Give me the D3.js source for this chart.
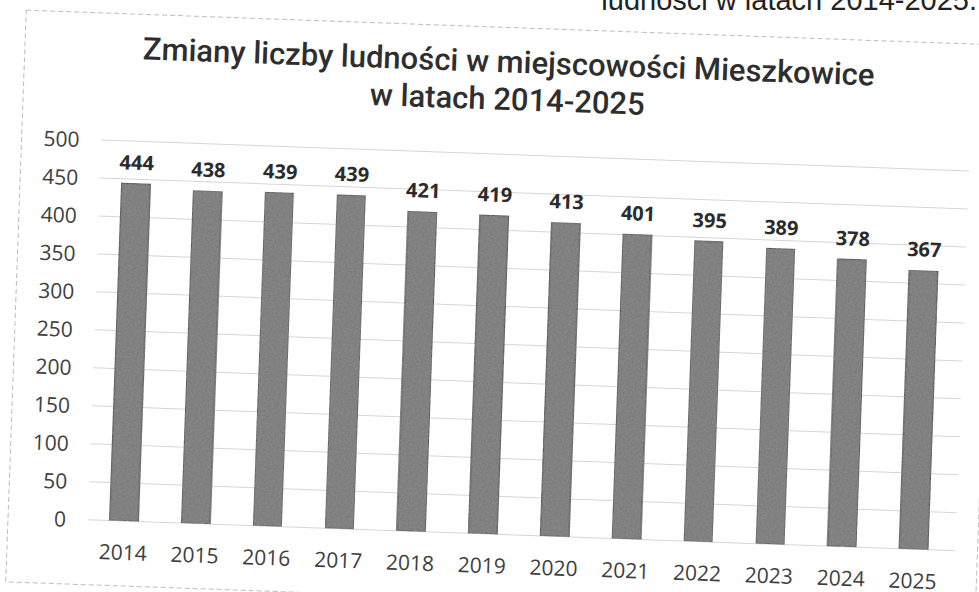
<!DOCTYPE html>
<html>
<head>
<meta charset="utf-8">
<script src="https://cdn.jsdelivr.net/npm/d3@7"></script>
<style>
  body { margin: 0; background: #fff; }
  svg { display: block; }
</style>
</head>
<body>
<div class="chart"></div>
<script>
var years = ['2014', '2015', '2016', '2017', '2018', '2019', '2020', '2021', '2022', '2023', '2024', '2025'];
var population = [444, 438, 439, 439, 421, 419, 413, 401, 395, 389, 378, 367];
var yTicks = [0, 50, 100, 150, 200, 250, 300, 350, 400, 450, 500];
var titleLines = ['Zmiany liczby ludności w miejscowości Mieszkowice', 'w latach 2014-2025'];

var width = 979;
var height = 592;

var svg = d3.select('.chart')
  .append('svg')
    .attr('width', width)
    .attr('height', height);

// bit of grain so the bars look like the scanned print
var defs = svg.append('defs');
var grain = defs.append('filter')
    .attr('id', 'grain')
    .attr('x', 0).attr('y', 0).attr('width', 1).attr('height', 1);
grain.append('feTurbulence')
    .attr('type', 'fractalNoise')
    .attr('baseFrequency', 0.6)
    .attr('numOctaves', 2)
    .attr('result', 'noise');
grain.append('feColorMatrix')
    .attr('in', 'noise')
    .attr('type', 'matrix')
    .attr('values', '0 0 0 0 0.3  0 0 0 0 0.3  0 0 0 0 0.3  1.2 0 0 0 -0.35')
    .attr('result', 'tint');
grain.append('feComposite')
    .attr('in', 'tint')
    .attr('in2', 'SourceGraphic')
    .attr('operator', 'in')
    .attr('result', 'spots');
grain.append('feMerge').selectAll('feMergeNode')
  .data(['SourceGraphic', 'spots'])
  .enter().append('feMergeNode')
    .attr('in', d => d);

// partly cut caption from the scanned page
svg.append('text')
    .attr('x', 977)
    .attr('y', 10)
    .attr('text-anchor', 'end')
    .style('font-family', '"Liberation Sans", Arial, sans-serif')
    .style('font-size', '29px')
    .style('fill', '#222')
    .text('ludności w latach 2014-2025.');

// whole chart is a little tilted in the scan
var g = svg.append('g')
    .attr('transform', 'rotate(2.05, 124, 521)');

g.append('rect')
    .attr('x', 8)
    .attr('y', 14)
    .attr('width', 970)
    .attr('height', 572)
    .style('fill', 'none')
    .style('stroke', '#bdbdbd')
    .style('stroke-dasharray', '5,3');

var xScale = d3.scaleBand()
  .domain(years)
  .range([88, 950])
  .paddingInner(0.6)
  .paddingOuter(0.3);

var yScale = d3.scaleLinear()
  .domain([0, 500])
  .range([521, 141]);

g.append('g')
  .selectAll('line')
  .data(yTicks)
  .enter().append('line')
    .attr('x1', 88)
    .attr('x2', 956)
    .attr('y1', d => yScale(d))
    .attr('y2', d => yScale(d))
    .style('stroke', '#d6d6d6')
    .style('stroke-width', 1);

var yAxis = g.append('g')
    .attr('transform', 'translate(66, 0)')
    .call(d3.axisLeft(yScale).tickValues(yTicks).tickSize(0).tickPadding(0));
yAxis.select('.domain').remove();
yAxis.selectAll('text')
    .attr('dy', '0.35em')
    .style('font-family', '"Open Sans", sans-serif')
    .style('font-size', '21px')
    .style('fill', '#404040');

var xAxis = g.append('g')
    .attr('transform', 'translate(0, 521)')
    .call(d3.axisBottom(xScale).tickSize(0).tickPadding(0));
xAxis.select('.domain').remove();
xAxis.selectAll('text')
    .attr('y', 39)
    .attr('dy', 0)
    .style('font-family', '"Open Sans", sans-serif')
    .style('font-size', '21px')
    .style('fill', '#404040');

g.append('g')
  .selectAll('rect')
  .data(population)
  .enter().append('rect')
    .attr('x', (d, i) => xScale(years[i]))
    .attr('y', d => yScale(d))
    .attr('width', xScale.bandwidth())
    .attr('height', d => yScale(0) - yScale(d))
    .style('fill', '#7a7a7a')
    .style('stroke', '#4e4e4e')
    .style('stroke-width', 1.2)
    .attr('filter', 'url(#grain)');

g.append('g')
  .selectAll('text')
  .data(population)
  .enter().append('text')
    .attr('x', (d, i) => xScale(years[i]) + xScale.bandwidth() / 2)
    .attr('y', d => yScale(d) - 14)
    .attr('text-anchor', 'middle')
    .style('font-family', '"Open Sans", sans-serif')
    .style('font-weight', 'bold')
    .style('font-size', '20px')
    .style('fill', '#2b2b2b')
    .text(d => d);

g.append('g')
  .selectAll('text')
  .data(titleLines)
  .enter().append('text')
    .attr('x', 492)
    .attr('y', (d, i) => 59 + i * 37.5)
    .attr('text-anchor', 'middle')
    .style('font-family', 'Roboto, sans-serif')
    .style('font-weight', 500)
    .style('font-size', '31px')
    .style('fill', '#2e2e2e')
    .text(d => d);
</script>
</body>
</html>
